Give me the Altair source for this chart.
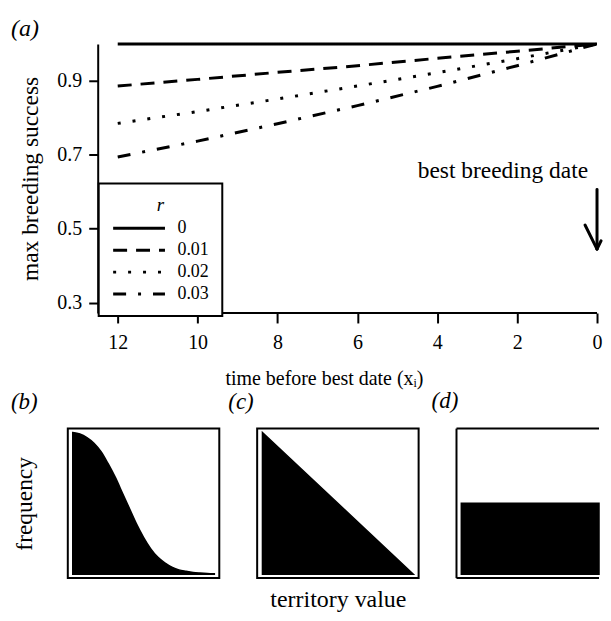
import altair as alt
import pandas as pd

FONT = "Liberation Serif"

# ---------------- panel (a) data ----------------
time_x = [12, 10, 8, 6, 4, 2, 0]
r_levels = ["0", "0.01", "0.02", "0.03"]
success_r0 = [1.0, 1.0, 1.0, 1.0, 1.0, 1.0, 1.0]
success_r001 = [0.886, 0.904, 0.923, 0.941, 0.961, 0.980, 1.0]
success_r002 = [0.785, 0.817, 0.851, 0.886, 0.922, 0.960, 1.0]
success_r003 = [0.694, 0.737, 0.784, 0.833, 0.885, 0.941, 1.0]

y_ticks = [0.3, 0.4, 0.5, 0.6, 0.7, 0.8, 0.9, 1.0]
x_ticks = [0, 2, 4, 6, 8, 10, 12]

# x-axis line (from the y axis to x = 0)
axis_line_x = [12.47]
axis_line_x2 = [0]
axis_line_y = [0.272]

note_text = ["best breeding date"]
note_x = [0]
note_y = [0.655]

arrow_x = [0, 0, 0]
arrow_x2 = [0, 0.3, -0.1]
arrow_y = [0.606, 0.445, 0.445]
arrow_y2 = [0.445, 0.51, 0.467]

# ---------------- panels (b)-(d) data ----------------
b_x = [0.0, 0.05, 0.1, 0.15, 0.2, 0.25, 0.3, 0.35, 0.4, 0.45, 0.5,
       0.55, 0.6, 0.65, 0.7, 0.75, 0.8, 0.85, 0.9, 0.95, 1.0]
b_y = [1.0, 0.99, 0.965, 0.925, 0.865, 0.78, 0.685, 0.575, 0.465, 0.355, 0.26,
       0.18, 0.12, 0.08, 0.05, 0.03, 0.02, 0.012, 0.008, 0.005, 0.003]
c_x = [0.0, 1.0]
c_y = [1.0, 0.0]
d_x = [0.0, 1.0]
d_y = [0.5, 0.5]

# open frame of panel (d) (its right side is cut off by the figure edge)
d_frame_x = [-0.035, -0.035, -0.035]
d_frame_x2 = [1.0, 1.0, -0.035]
d_frame_y = [1.028, -0.028, -0.028]
d_frame_y2 = [1.028, -0.028, 1.028]

# ---------------- build panel (a) ----------------
rows = []
for r, vals in zip(r_levels, [success_r0, success_r001, success_r002, success_r003]):
    for x, y in zip(time_x, vals):
        rows.append({"x": x, "y": y, "r": r})
df_a = pd.DataFrame(rows)

XTITLE = "time before best date (xᵢ)"
YTITLE = "max breeding success"

x_scale = alt.Scale(domain=[0, 13.25], reverse=True, nice=False, zero=False)
y_scale = alt.Scale(domain=[0.272, 1.0], nice=False, zero=False)

x_axis = alt.Axis(values=x_ticks, title=XTITLE, grid=False, tickSize=10, domain=False,
                  labelPadding=10, titlePadding=16, labelFontSize=20,
                  titleFontSize=20, labelFlush=False, titleX=257)
y_axis = alt.Axis(values=y_ticks, title=YTITLE, grid=False, tickSize=9, offset=-30,
                  labelPadding=7, titlePadding=14, labelFontSize=20,
                  titleFontSize=23.5,
                  labelExpr="(round(datum.value*10) % 2 == 1) ? format(datum.value, '.1f') : ''")

dashes = [[1, 0], [14, 9], [3, 12], [13, 12, 3, 12]]

lines = alt.Chart(df_a).mark_line(color="black", strokeWidth=3, strokeCap="butt").encode(
    x=alt.X("x:Q", scale=x_scale, axis=x_axis),
    y=alt.Y("y:Q", scale=y_scale, axis=y_axis),
    strokeDash=alt.StrokeDash(
        "r:N",
        scale=alt.Scale(domain=r_levels, range=dashes),
        legend=alt.Legend(
            title="r", orient="none", legendX=31, legendY=140, direction="vertical",
            strokeColor="black", fillColor="white", padding=13,
            titleFont=FONT, titleFontSize=19, titleFontStyle="italic",
            titleFontWeight="normal", titleAnchor="middle", titlePadding=4,
            titleColor="black",
            labelFont=FONT, labelFontSize=18, labelColor="black",
            symbolType="stroke", symbolSize=2704, symbolStrokeWidth=3,
            symbolStrokeColor="black", labelOffset=11, clipHeight=18,
            rowPadding=4,
        ),
    ),
)

axis_df = pd.DataFrame({"x": axis_line_x, "x2": axis_line_x2, "y": axis_line_y})
axis_line = alt.Chart(axis_df).mark_rule(strokeWidth=2, color="black").encode(
    x=alt.X("x:Q", title=XTITLE),
    x2="x2:Q",
    y=alt.Y("y:Q", title=YTITLE),
)

note_df = pd.DataFrame({"x": note_x, "y": note_y, "label": note_text})
note = alt.Chart(note_df).mark_text(
    align="right", baseline="middle", dx=-9, font=FONT, fontSize=23.5, color="black"
).encode(
    x=alt.X("x:Q", title=XTITLE),
    y=alt.Y("y:Q", title=YTITLE),
    text="label:N",
)

arrow_df = pd.DataFrame({"x": arrow_x, "x2": arrow_x2, "y": arrow_y, "y2": arrow_y2})
arrow = alt.Chart(arrow_df).mark_rule(strokeWidth=3, strokeCap="round", color="black").encode(
    x=alt.X("x:Q", title=XTITLE),
    x2="x2:Q",
    y=alt.Y("y:Q", title=YTITLE),
    y2="y2:Q",
)


def panel_title(txt, dx, offset=15, size=23):
    return alt.TitleParams(text=txt, anchor="start", frame="group", dx=dx, offset=offset,
                           font=FONT, fontSize=size, fontStyle="italic",
                           fontWeight="normal", color="black")


top = alt.layer(lines, axis_line, note, arrow).properties(
    width=531, height=270, title=panel_title("(a)", -57, offset=-3, size=24),
)

# ---------------- build panels (b)-(d) ----------------
by_scale = alt.Scale(domain=[-0.028, 1.028], nice=False, zero=False)
box = alt.ViewBackground(stroke="black", strokeWidth=2, fill="white")
no_box = alt.ViewBackground(strokeOpacity=0, fill="white")


def dist_panel(xs, ys, title_txt, dx, width, y_title=None, x_title=None,
               dom=(-0.035, 1.035), view=box):
    df = pd.DataFrame({"x": xs, "y": ys})
    yax = None
    xax = None
    if y_title:
        yax = alt.Axis(title=y_title, labels=False, ticks=False, domain=False, grid=False,
                       titlePadding=31, titleFontSize=23.5)
    if x_title:
        xax = alt.Axis(title=x_title, labels=False, ticks=False, domain=False, grid=False,
                       titlePadding=9, titleFontSize=24)
    xs_scale = alt.Scale(domain=list(dom), nice=False, zero=False)
    area = alt.Chart(df).mark_area(
        color="black", stroke="black", strokeWidth=1.5, interpolate="monotone"
    ).encode(
        x=alt.X("x:Q", scale=xs_scale, axis=xax),
        y=alt.Y("y:Q", scale=by_scale, axis=yax),
        y2=alt.datum(0),
    )
    return area, dict(width=width, height=150, title=panel_title(title_txt, dx), view=view)


a_b, p_b = dist_panel(b_x, b_y, "(b)", -57, 152, y_title="frequency")
a_c, p_c = dist_panel(c_x, c_y, "(c)", -29, 162, x_title="territory value")
a_d, p_d = dist_panel(d_x, d_y, "(d)", -25, 143, dom=(-0.035, 1.0), view=no_box)

pb = a_b.properties(**p_b)
pc = a_c.properties(**p_c)

frame_df = pd.DataFrame({"x": d_frame_x, "x2": d_frame_x2, "y": d_frame_y, "y2": d_frame_y2})
d_frame = alt.Chart(frame_df).mark_rule(strokeWidth=2, color="black").encode(
    x="x:Q", x2="x2:Q", y="y:Q", y2="y2:Q"
)
pd_ = alt.layer(a_d, d_frame).properties(**p_d)

bottom = alt.hconcat(pb, pc, pd_, spacing=38, bounds="flush")

chart = alt.vconcat(top, bottom, spacing=1).properties(
    padding={"left": 2, "top": 8, "right": 0, "bottom": 0}
).configure_view(stroke=None).configure_axis(
    labelFont=FONT, titleFont=FONT, labelColor="black", titleColor="black",
    titleFontWeight="normal", domainColor="black", domainWidth=2,
    tickColor="black", tickWidth=2,
).configure_legend(strokeWidth=2)

chart.save("out.html", embed_options={"renderer": "svg", "actions": False})
